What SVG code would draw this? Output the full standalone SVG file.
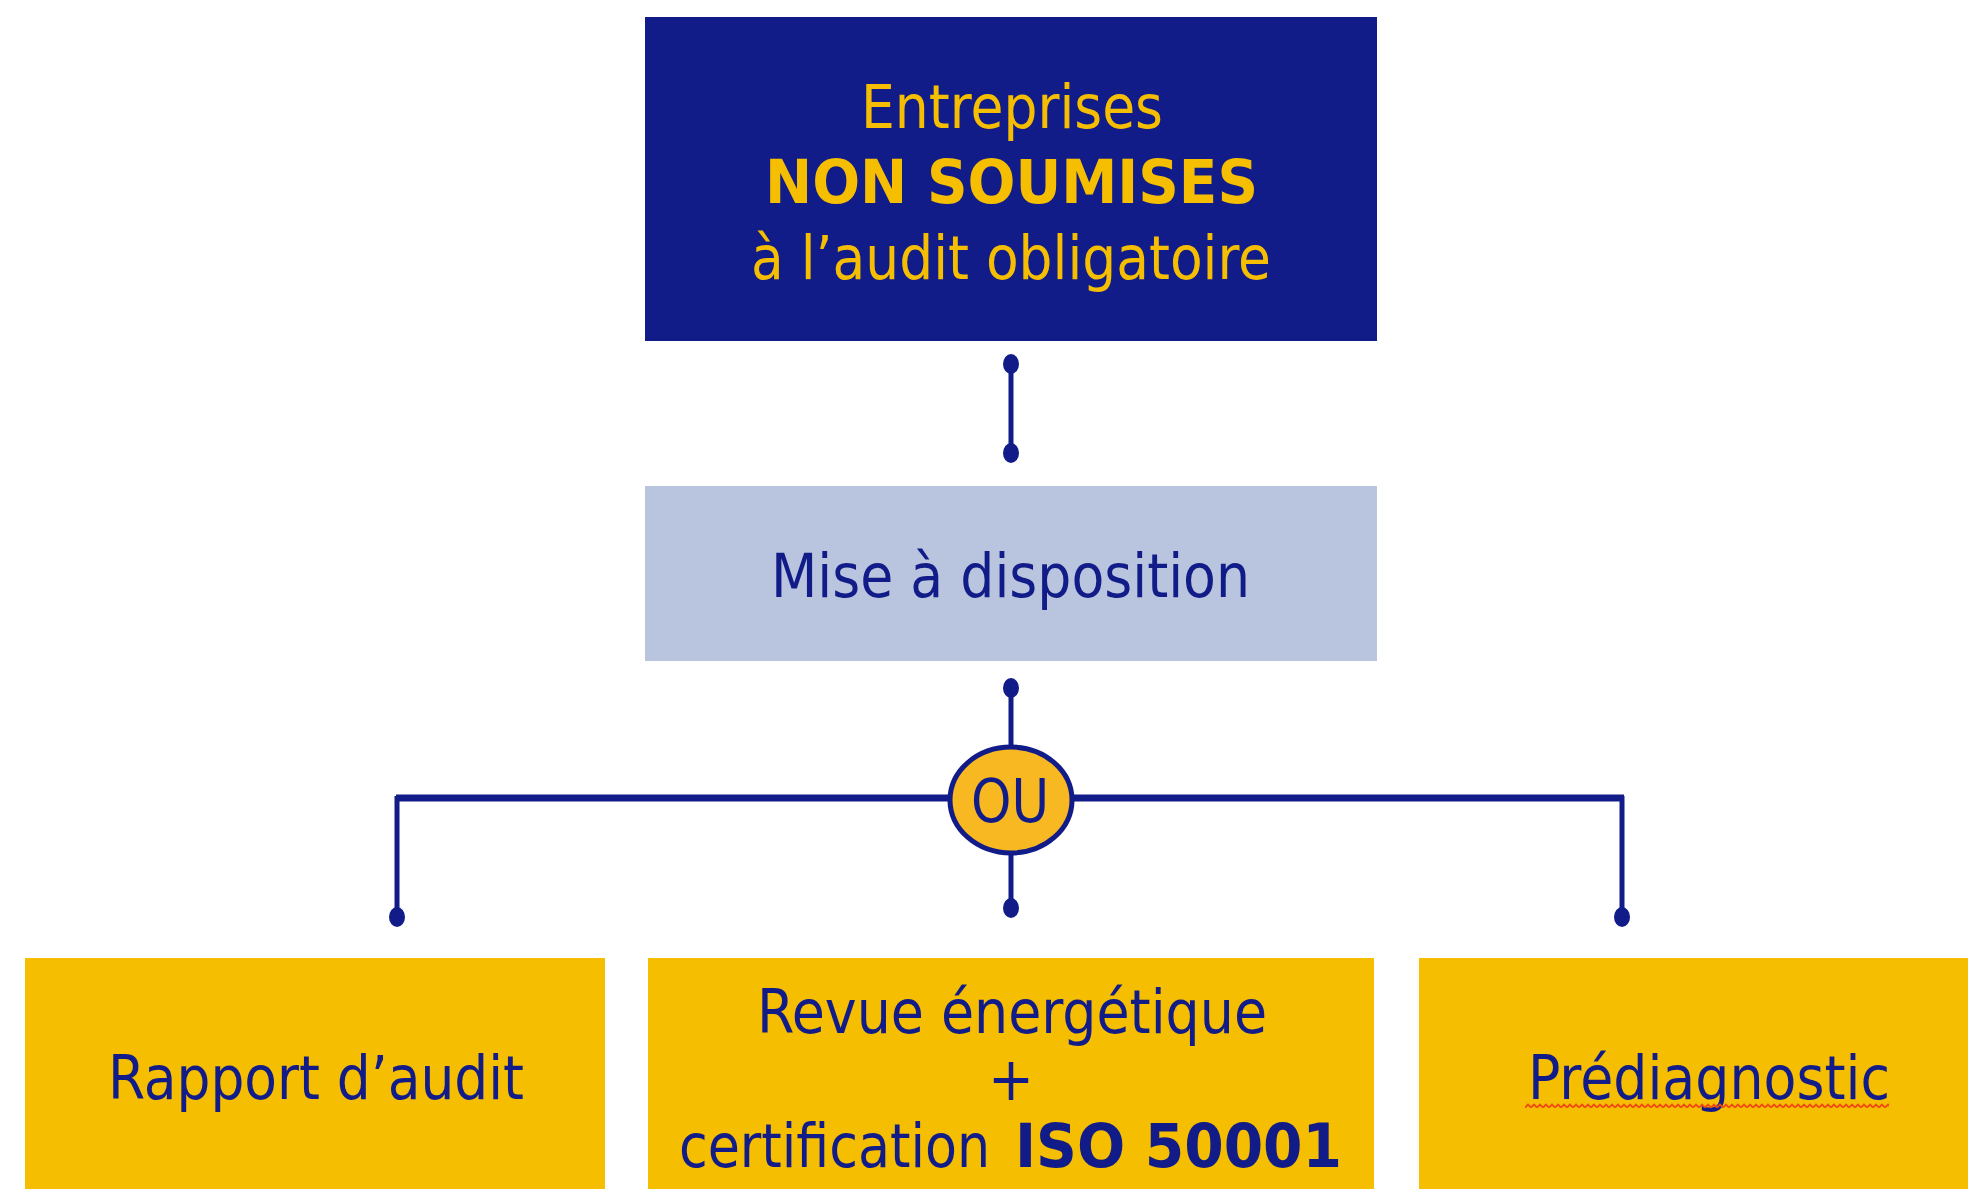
<svg xmlns="http://www.w3.org/2000/svg" width="1968" height="1189" viewBox="0 0 1968 1189">
<style>
.t{font-family:"DejaVu Sans Condensed","DejaVu Sans",sans-serif;font-size:61px}
.b{font-weight:bold}
.y{fill:#F5BE00}
.n{fill:#111C88}
.ln{stroke:#111C88;fill:none}
.dot{fill:#111C88}
</style>
<defs>
<pattern id="wave" x="1525" y="1103" width="6" height="6" patternUnits="userSpaceOnUse">
<path d="M0,4.5 L3,1.5 L6,4.5" fill="none" stroke="#F04A10" stroke-width="1.8"/>
</pattern>
</defs>
<rect width="1968" height="1189" fill="#ffffff"/>
<g id="connectors">
<line class="ln" x1="1011" y1="364" x2="1011" y2="453" stroke-width="5"/>
<ellipse class="dot" cx="1011" cy="364" rx="8" ry="10"/>
<ellipse class="dot" cx="1011" cy="453" rx="8" ry="10"/>
<line class="ln" x1="1011" y1="688" x2="1011" y2="748" stroke-width="5"/>
<ellipse class="dot" cx="1011" cy="688" rx="8" ry="10"/>
<line class="ln" x1="396" y1="798" x2="1624" y2="798" stroke-width="7"/>
<polyline class="ln" points="397,796 397,917" stroke-width="5"/>
<polyline class="ln" points="1622,796 1622,917" stroke-width="5"/>
<line class="ln" x1="1011" y1="850" x2="1011" y2="908" stroke-width="5"/>
<ellipse class="dot" cx="397" cy="917" rx="8" ry="10"/>
<ellipse class="dot" cx="1011" cy="908" rx="8" ry="10"/>
<ellipse class="dot" cx="1622" cy="917" rx="8" ry="10"/>
</g>
<g id="node-top">
<rect x="645" y="17" width="732" height="324" fill="#111C88"/>
<text class="t y" x="861" y="128" textLength="302" lengthAdjust="spacingAndGlyphs">Entreprises</text>
<text class="t b y" x="765" y="203" textLength="493" lengthAdjust="spacingAndGlyphs">NON SOUMISES</text>
<text class="t y" x="751" y="279" textLength="520" lengthAdjust="spacingAndGlyphs">à l’audit obligatoire</text>
</g>
<g id="node-mise">
<rect x="645" y="486" width="732" height="175" fill="#B9C4DF"/>
<text class="t n" x="771" y="597" textLength="479" lengthAdjust="spacingAndGlyphs">Mise à disposition</text>
</g>
<g id="node-ou">
<ellipse cx="1011" cy="800" rx="61" ry="53" fill="#F7B822" stroke="#111C88" stroke-width="5"/>
<text class="t n" x="971" y="822" textLength="78" lengthAdjust="spacingAndGlyphs">OU</text>
</g>
<g id="node-rapport">
<rect x="25" y="958" width="580" height="231" fill="#F5BE00"/>
<text class="t n" x="108" y="1099" textLength="416" lengthAdjust="spacingAndGlyphs">Rapport d’audit</text>
</g>
<g id="node-revue">
<rect x="648" y="958" width="726" height="231" fill="#F5BE00"/>
<text class="t n" x="757" y="1033" textLength="510" lengthAdjust="spacingAndGlyphs">Revue énergétique</text>
<text class="t n" x="1011" y="1100" text-anchor="middle">+</text>
<text class="t n" x="679" y="1167" textLength="311" lengthAdjust="spacingAndGlyphs">certification</text>
<text class="t b n" x="1015" y="1167" textLength="327" lengthAdjust="spacingAndGlyphs">ISO 50001</text>
</g>
<g id="node-prediag">
<rect x="1419" y="958" width="549" height="231" fill="#F5BE00"/>
<text class="t n" x="1528" y="1099" textLength="362" lengthAdjust="spacingAndGlyphs">Prédiagnostic</text>
<rect x="1525" y="1103" width="364" height="6" fill="url(#wave)"/>
</g>
</svg>
